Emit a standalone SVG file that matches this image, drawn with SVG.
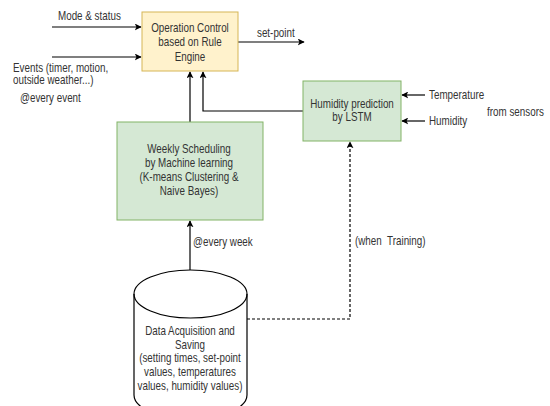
<svg xmlns="http://www.w3.org/2000/svg" width="550" height="406" viewBox="0 0 550 406">
<defs>
<marker id="ah" viewBox="0 0 10 10" refX="9" refY="5" markerWidth="7" markerHeight="7" markerUnits="userSpaceOnUse" orient="auto">
<path d="M0,0 L10,5 L0,10 L2.5,5 Z" fill="#000"/>
</marker>
<style>
text{font-family:"Liberation Sans",Arial,sans-serif;font-size:12px;fill:#333}
.c{text-anchor:middle}
.ln{fill:none;stroke:#000;stroke-width:1.2}
.dash{fill:none;stroke:#000;stroke-width:1.2;stroke-dasharray:3,2}
.y{fill:#fff2cc;stroke:#d6b656;stroke-width:1}
.g{fill:#d5e8d4;stroke:#82b366;stroke-width:1}
</style>
</defs>
<rect width="550" height="406" fill="#fff"/>
<g id="connectors">
<path class="ln" d="M52,27 H141" marker-end="url(#ah)"/>
<path class="ln" d="M52,57 H141" marker-end="url(#ah)"/>
<path class="ln" d="M238,42 H304" marker-end="url(#ah)"/>
<path class="ln" d="M190,122 V72" marker-end="url(#ah)"/>
<path class="ln" d="M303,111 H203 V72" marker-end="url(#ah)"/>
<path class="ln" d="M425,95 H402" marker-end="url(#ah)"/>
<path class="ln" d="M425,121 H402" marker-end="url(#ah)"/>
<path class="ln" d="M190,270 V221" marker-end="url(#ah)"/>
<path class="dash" d="M247,319 H350 V142" marker-end="url(#ah)"/>
</g>
<g id="opcontrol">
<rect class="y" x="142" y="12" width="96" height="59"/>
<g transform="scale(0.82 1)">
<text class="c" x="231.7" y="32">Operation Control</text>
<text class="c" x="231.7" y="46">based on Rule</text>
<text class="c" x="231.7" y="61">Engine</text>
</g>
</g>
<g id="humidity">
<rect class="g" x="303" y="81" width="98" height="60"/>
<g transform="scale(0.82 1)">
<text class="c" x="429.3" y="108">Humidity prediction</text>
<text class="c" x="429.3" y="121">by LSTM</text>
</g>
</g>
<g id="weekly">
<rect class="g" x="117" y="122" width="146" height="98"/>
<g transform="scale(0.82 1)">
<text class="c" x="230.5" y="153">Weekly Scheduling</text>
<text class="c" x="230.5" y="167">by Machine learning</text>
<text class="c" x="230.5" y="181">(K-means Clustering &amp;</text>
<text class="c" x="230.5" y="195">Naive Bayes)</text>
</g>
</g>
<g id="datastore">
<path d="M134,294 A56.5,24 0 0 1 247,294 V395 A56.5,24 0 0 1 134,395 Z" fill="#fff" stroke="#000" stroke-width="1.2"/>
<path d="M134,294 A56.5,24 0 0 0 247,294" fill="none" stroke="#000" stroke-width="1.2"/>
<g transform="scale(0.82 1)">
<text class="c" x="231.7" y="335">Data Acquisition and</text>
<text class="c" x="231.7" y="349">Saving</text>
<text class="c" x="231.7" y="362">(setting times, set-point</text>
<text class="c" x="231.7" y="376">values, temperatures</text>
<text class="c" x="231.7" y="390">values, humidity values)</text>
</g>
</g>
<g id="labels" transform="scale(0.82 1)">
<text x="70.7" y="20">Mode &amp; status</text>
<text x="15.9" y="72">Events (timer, motion,</text>
<text x="15.9" y="84">outside weather...)</text>
<text x="24.4" y="102">@every event</text>
<text x="313.4" y="37">set-point</text>
<text x="523.2" y="99">Temperature</text>
<text x="523.2" y="125">Humidity</text>
<text x="593.9" y="116">from sensors</text>
<text x="235.4" y="246">@every week</text>
<text x="432.9" y="245" xml:space="preserve">(when  Training)</text>
</g>
</svg>
